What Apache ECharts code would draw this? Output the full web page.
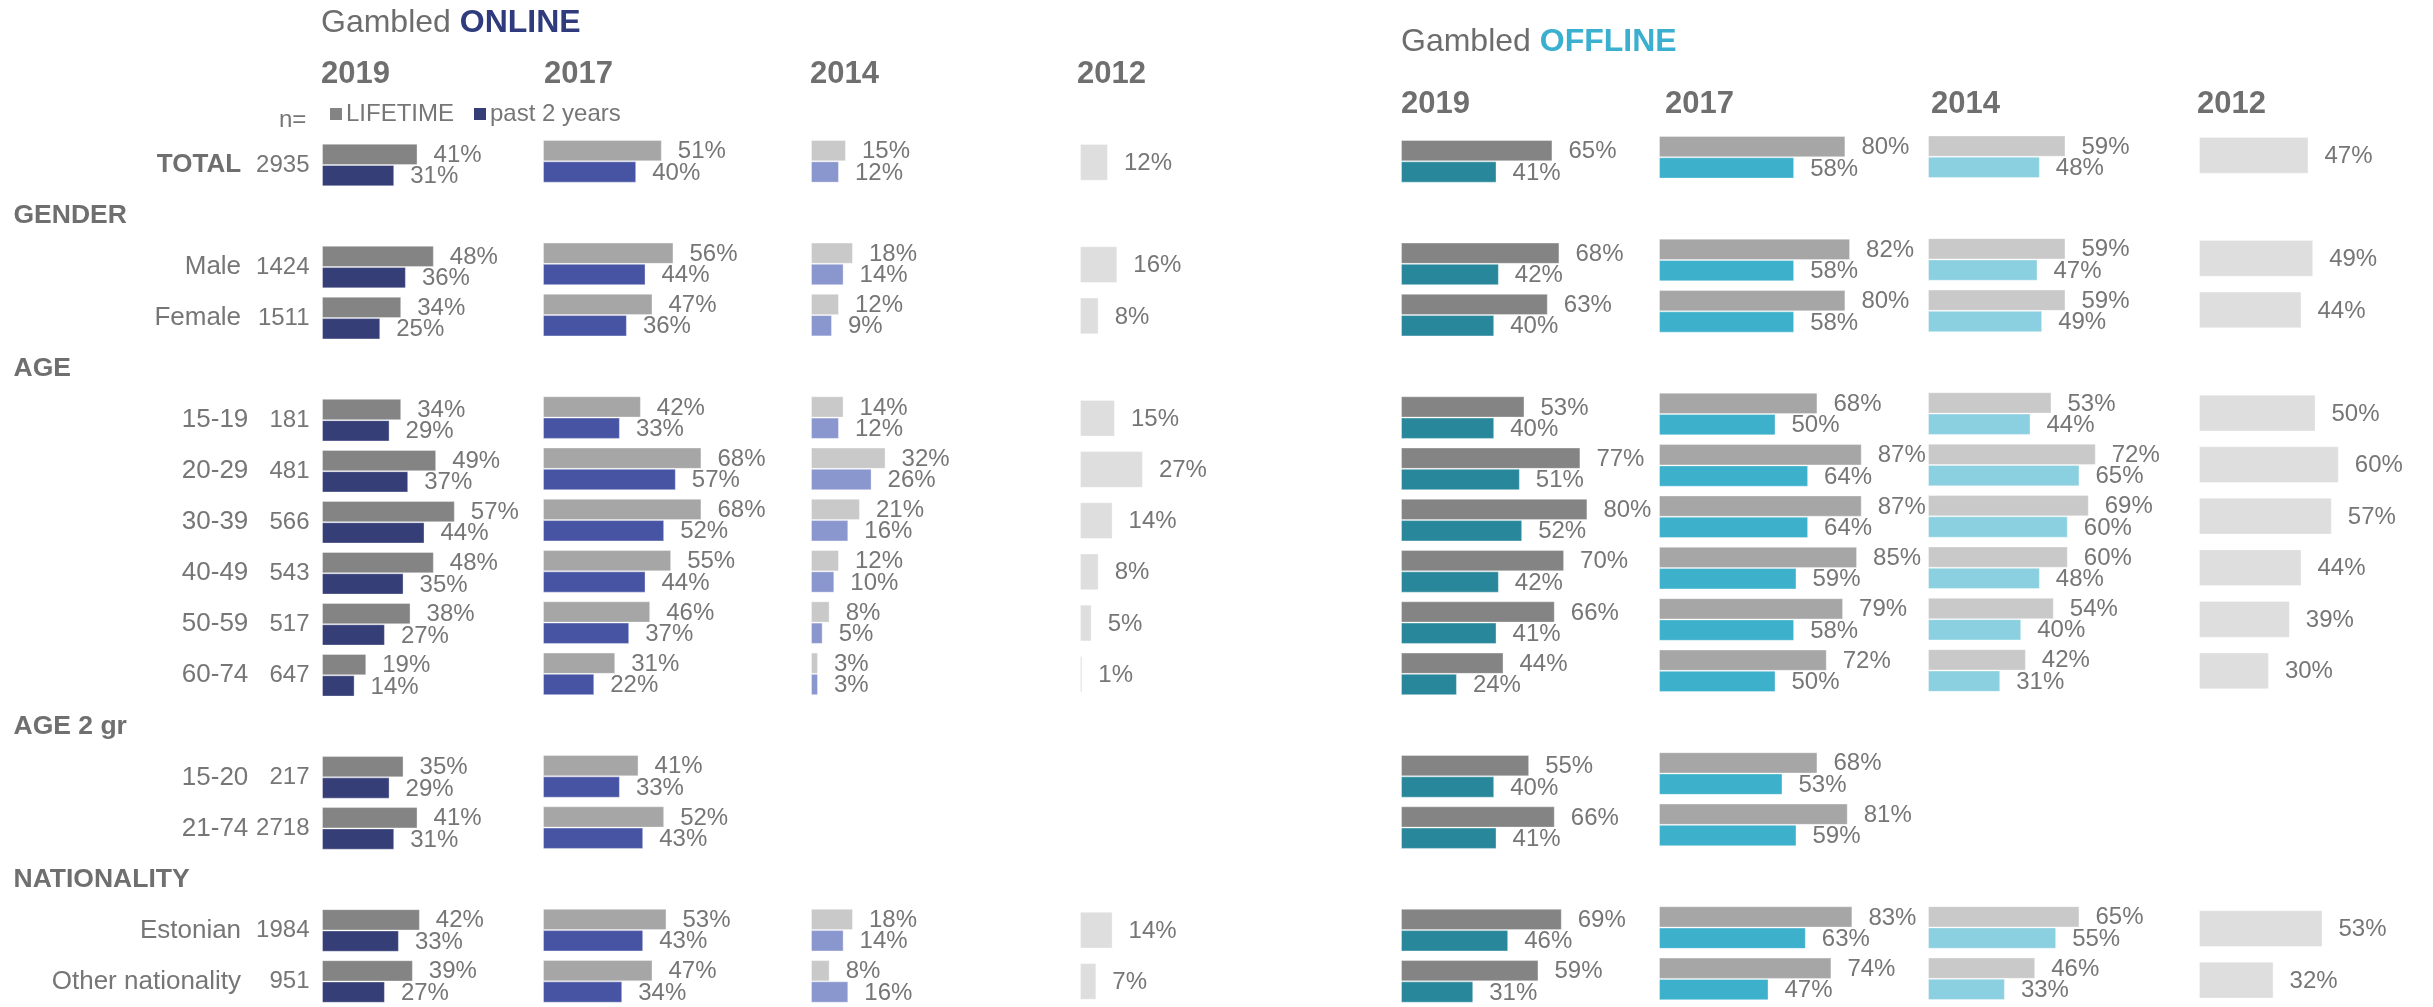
<!DOCTYPE html>
<html>
<head>
<meta charset="utf-8">
<title>Gambled online / offline</title>
<script src="https://cdn.jsdelivr.net/npm/echarts@6/dist/echarts.min.js"></script>
<style>
    html, body { margin: 0; padding: 0; background: #fff; }
    #main { width: 2433px; height: 1007px; }
</style>
</head>
<body>
<div id="main"></div>
<script>
// rows (header rows have no bars)
var rows = ['TOTAL', 'GENDER', 'Male', 'Female', 'AGE', '15-19', '20-29', '30-39', '40-49', '50-59', '60-74',
    'AGE 2 gr', '15-20', '21-74', 'NATIONALITY', 'Estonian', 'Other nationality'];
var headers = ['GENDER', 'AGE', 'AGE 2 gr', 'NATIONALITY'];
var sampleSizes = [2935, '', 1424, 1511, '', 181, 481, 566, 543, 517, 647, '', 217, 2718, '', 1984, 951];
var years = ['2019', '2017', '2014', '2012'];

// Gambled ONLINE
var online2019Lifetime = [41, null, 48, 34, null, 34, 49, 57, 48, 38, 19, null, 35, 41, null, 42, 39];
var online2019Past = [31, null, 36, 25, null, 29, 37, 44, 35, 27, 14, null, 29, 31, null, 33, 27];
var online2017Lifetime = [51, null, 56, 47, null, 42, 68, 68, 55, 46, 31, null, 41, 52, null, 53, 47];
var online2017Past = [40, null, 44, 36, null, 33, 57, 52, 44, 37, 22, null, 33, 43, null, 43, 34];
var online2014Lifetime = [15, null, 18, 12, null, 14, 32, 21, 12, 8, 3, null, null, null, null, 18, 8];
var online2014Past = [12, null, 14, 9, null, 12, 26, 16, 10, 5, 3, null, null, null, null, 14, 16];
var online2012 = [12, null, 16, 8, null, 15, 27, 14, 8, 5, 1, null, null, null, null, 14, 7];

// Gambled OFFLINE
var offline2019Lifetime = [65, null, 68, 63, null, 53, 77, 80, 70, 66, 44, null, 55, 66, null, 69, 59];
var offline2019Past = [41, null, 42, 40, null, 40, 51, 52, 42, 41, 24, null, 40, 41, null, 46, 31];
var offline2017Lifetime = [80, null, 82, 80, null, 68, 87, 87, 85, 79, 72, null, 68, 81, null, 83, 74];
var offline2017Past = [58, null, 58, 58, null, 50, 64, 64, 59, 58, 50, null, 53, 59, null, 63, 47];
var offline2014Lifetime = [59, null, 59, 59, null, 53, 72, 69, 60, 54, 42, null, null, null, null, 65, 46];
var offline2014Past = [48, null, 47, 49, null, 44, 65, 60, 48, 40, 31, null, null, null, null, 55, 33];
var offline2012 = [47, null, 49, 44, null, 50, 60, 57, 44, 39, 30, null, null, null, null, 53, 32];

var FONT = '"Liberation Sans", Arial, sans-serif';
var GREY = '#767676';

class GambleChart {
    constructor() {
        // panels: online 2019/2017/2014/2012, then offline
        this.panels = [
            { left: 322,  top: 139.5, height: 868, data: [online2019Lifetime, online2019Past], colors: ['#848484', '#363e78'] },
            { left: 543,  top: 135.7, height: 872, data: [online2017Lifetime, online2017Past], colors: ['#a6a6a6', '#4754a3'] },
            { left: 811,  top: 135.7, height: 872, data: [online2014Lifetime, online2014Past], colors: ['#c9c9c9', '#8a96ce'] },
            { left: 1080, top: 136.7, height: 872, data: [online2012], colors: ['#dedede'] },
            { left: 1401, top: 135.7, height: 872, data: [offline2019Lifetime, offline2019Past], colors: ['#848484', '#28879a'] },
            { left: 1659, top: 131.6, height: 873, data: [offline2017Lifetime, offline2017Past], colors: ['#a6a6a6', '#3db0cc'] },
            { left: 1928, top: 131,   height: 873.5, data: [offline2014Lifetime, offline2014Past], colors: ['#c9c9c9', '#8bd0e0'] },
            { left: 2199, top: 129.5, height: 876.5, data: [offline2012], colors: ['#dedede'] }
        ];
        this.init();
    }

    init() {
        this.myChart = echarts.init(document.getElementById('main'));
        this.renderDom();
    }

    //行标签 + n=
    rowLabel(value, idx) {
        if (headers.indexOf(value) >= 0) {
            return '{h|' + value + '}';
        }
        var style = value === 'TOTAL' ? 't' : 'c';
        // text labels carry a trailing space in the original, age ranges do not
        var txt = /[a-z]/i.test(value) ? value + ' ' : value;
        return '{' + style + '|' + txt + '}{n|' + sampleSizes[idx] + '}';
    }

    renderDom() {
        var _this = this;
        var grid = [], xAxis = [], yAxis = [], series = [];

        this.panels.forEach(function (p, i) {
            grid.push({ left: p.left, top: p.top, width: 233, height: p.height });
            xAxis.push({ type: 'value', gridIndex: i, min: 0, max: 100, show: false });
            yAxis.push({
                type: 'category', gridIndex: i, data: rows, inverse: true,
                axisLine: { show: false }, axisTick: { show: false }, splitLine: { show: false },
                axisLabel: i === 0 ? {
                    show: true, interval: 0, margin: 12.5,
                    formatter: function (v, idx) { return _this.rowLabel(v, idx); },
                    rich: {
                        h: { fontFamily: FONT, fontSize: 26.5, fontWeight: 'bold', color: '#6f6f6f', width: 296, align: 'left' },
                        t: { fontFamily: FONT, fontSize: 26, fontWeight: 'bold', color: '#6f6f6f', width: 235, align: 'right' },
                        c: { fontFamily: FONT, fontSize: 26, color: GREY, width: 235, align: 'right' },
                        n: { fontFamily: FONT, fontSize: 24, color: GREY, width: 61.2, align: 'right' }
                    }
                } : { show: false }
            });

            var single = p.data.length === 1;
            p.data.forEach(function (d, k) {
                series.push({
                    type: 'bar',
                    name: single ? years[3] : (k === 0 ? 'LIFETIME' : 'past 2 years'),
                    xAxisIndex: i, yAxisIndex: i,
                    data: d,
                    barWidth: single ? 36.7 : 21.3,
                    barGap: '0%',
                    itemStyle: { color: p.colors[k], borderColor: 'rgba(255,255,255,0.35)', borderWidth: 1 },
                    label: {
                        show: true, position: 'right', distance: 16, offset: [0, 1],
                        formatter: function (o) { return o.value + '%'; },
                        fontFamily: FONT, fontSize: 24, color: GREY
                    }
                });
            });
        });

        // 标题和年份
        var title = [
            { left: 321, top: 7, padding: 0, text: 'Gambled {b|ONLINE}',
              textStyle: { fontFamily: FONT, fontSize: 32, fontWeight: 'normal', color: '#6d6d6d',
                  rich: { b: { fontFamily: FONT, fontSize: 32, fontWeight: 'bold', color: '#2f3b7d' } } } },
            { left: 1401, top: 26, padding: 0, text: 'Gambled {b|OFFLINE}',
              textStyle: { fontFamily: FONT, fontSize: 32, fontWeight: 'normal', color: '#6d6d6d',
                  rich: { b: { fontFamily: FONT, fontSize: 32, fontWeight: 'bold', color: '#3aafcf' } } } },
            { left: 279, top: 108.5, padding: 0, text: 'n=',
              textStyle: { fontFamily: FONT, fontSize: 24, fontWeight: 'normal', color: GREY } }
        ];
        var onlineYearX = [321, 544, 810, 1077];
        var offlineYearX = [1401, 1665, 1931, 2197];
        years.forEach(function (y, i) {
            title.push({ left: onlineYearX[i], top: 59, padding: 0, text: y,
                textStyle: { fontFamily: FONT, fontSize: 31, fontWeight: 'bold', color: '#6f6f6f' } });
            title.push({ left: offlineYearX[i], top: 88.5, padding: 0, text: y,
                textStyle: { fontFamily: FONT, fontSize: 31, fontWeight: 'bold', color: '#6f6f6f' } });
        });

        this.option = {
            animation: false,
            backgroundColor: '#ffffff',
            title: title,
            legend: {
                data: ['LIFETIME', 'past 2 years'],
                left: 330, top: 102, padding: 0,
                icon: 'rect', itemWidth: 12, itemHeight: 12, itemGap: 20,
                itemStyle: { borderWidth: 0 },
                textStyle: { fontFamily: FONT, fontSize: 24, color: GREY, padding: [0, 0, 0, -1] }
            },
            grid: grid,
            xAxis: xAxis,
            yAxis: yAxis,
            series: series
        };

        this.myChart.setOption(this.option);
    }
}

new GambleChart();
</script>
</body>
</html>
